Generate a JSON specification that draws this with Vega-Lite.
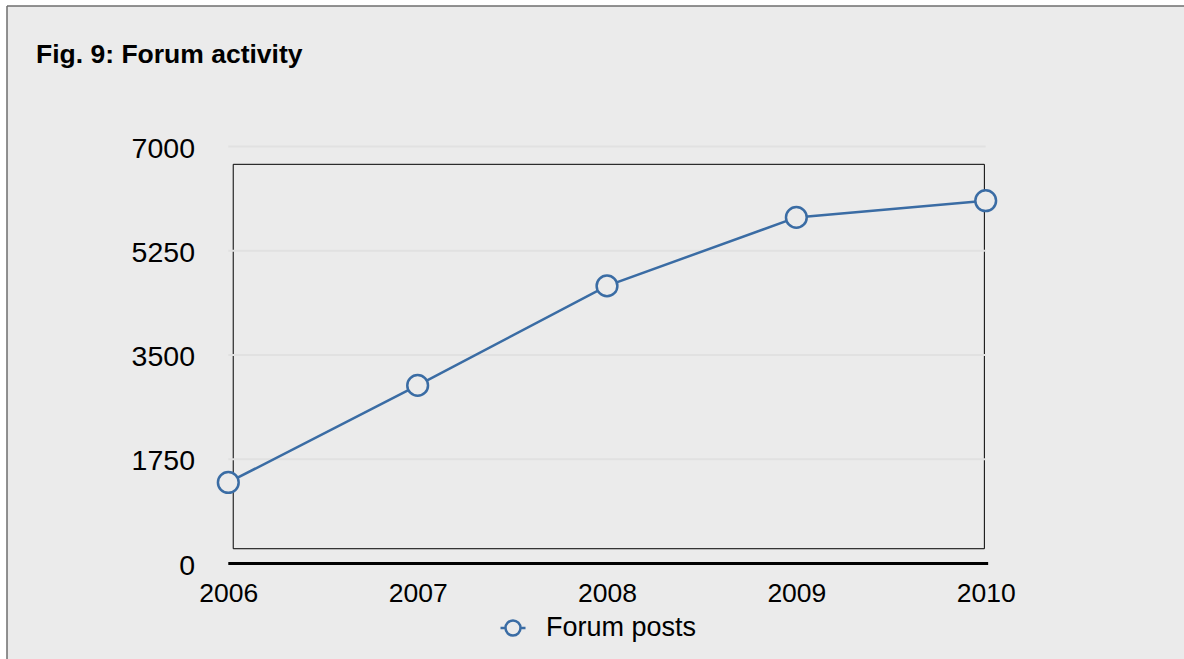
{
  "$schema": "https://vega.github.io/schema/vega-lite/v6.json",
  "width": 1177,
  "height": 653,
  "autosize": {"type": "none"},
  "padding": {"left": 7, "top": 6, "right": 0, "bottom": 0},
  "background": "#ffffff",
  "config": {
    "font": "Liberation Sans",
    "view": {
      "fill": "#ebebeb",
      "stroke": "#6f6f6f",
      "strokeWidth": 1.5,
      "strokeDash": [1177, 1830, 653, 0]
    },
    "axis": {
      "domain": false,
      "ticks": false,
      "tickSize": 0,
      "grid": false,
      "labelPadding": 0,
      "labelFont": "Liberation Sans",
      "labelColor": "#000000",
      "labelOverlap": false,
      "labelFlush": false
    }
  },
  "title": {
    "text": "Fig. 9: Forum activity",
    "anchor": "start",
    "frame": "group",
    "orient": "top",
    "baseline": "alphabetic",
    "offset": -83,
    "dx": 29,
    "font": "Liberation Sans",
    "fontSize": 26.5,
    "fontWeight": "bold",
    "color": "#000000"
  },
  "datasets": {
    "posts": [
      {"year": 2006, "posts": 1360, "series": "Forum posts"},
      {"year": 2007, "posts": 2990, "series": "Forum posts"},
      {"year": 2008, "posts": 4660, "series": "Forum posts"},
      {"year": 2009, "posts": 5810, "series": "Forum posts"},
      {"year": 2010, "posts": 6090, "series": "Forum posts"}
    ],
    "grid": [
      {"value": 1750},
      {"value": 3500},
      {"value": 5250},
      {"value": 7000}
    ]
  },
  "layer": [
    {
      "data": {"values": [{}]},
      "mark": {"type": "rect", "fill": null, "stroke": "#000000", "strokeWidth": 1},
      "encoding": {
        "x": {"datum": 2006.026, "type": "quantitative", "scale": {"domain": [2004.83127, 2011.04727], "nice": false, "zero": false}},
        "x2": {"datum": 2009.993},
        "y": {"datum": 248, "type": "quantitative", "scale": {"domain": [-1603.1, 9358.6], "nice": false, "zero": false}},
        "y2": {"datum": 6701}
      }
    },
    {
      "data": {"name": "grid"},
      "mark": {"type": "rule", "color": "#e1e1e1", "strokeWidth": 2},
      "encoding": {
        "x": {"datum": 2006, "type": "quantitative", "scale": {"domain": [2004.83127, 2011.04727], "nice": false, "zero": false}},
        "x2": {"datum": 2010},
        "y": {"field": "value", "type": "quantitative", "scale": {"domain": [-1603.1, 9358.6], "nice": false, "zero": false}}
      }
    },
    {
      "data": {"values": [{}]},
      "mark": {"type": "rule", "color": "#000000", "strokeWidth": 3},
      "encoding": {
        "x": {"datum": 2006, "type": "quantitative", "scale": {"domain": [2004.83127, 2011.04727], "nice": false, "zero": false}},
        "x2": {"datum": 2010.013},
        "y": {"datum": 0, "type": "quantitative", "scale": {"domain": [-1603.1, 9358.6], "nice": false, "zero": false}}
      }
    },
    {
      "data": {"name": "posts"},
      "mark": {"type": "line", "strokeWidth": 2.5},
      "encoding": {
        "x": {
          "field": "year",
          "type": "quantitative",
          "scale": {"domain": [2004.83127, 2011.04727], "nice": false, "zero": false},
          "axis": {
            "orient": "bottom",
            "values": [2006, 2007, 2008, 2009, 2010],
            "format": "d",
            "title": null,
            "offset": -79,
            "labelFontSize": 26.5
          }
        },
        "y": {
          "field": "posts",
          "type": "quantitative",
          "scale": {"domain": [-1603.1, 9358.6], "nice": false, "zero": false},
          "axis": {
            "orient": "left",
            "values": [0, 1750, 3500, 5250, 7000],
            "format": "d",
            "title": null,
            "offset": -187.5,
            "labelOffset": 1.5,
            "labelFontSize": 28.5
          }
        },
        "color": {
          "field": "series",
          "type": "nominal",
          "scale": {"range": ["#3a6ca4"]},
          "legend": {
            "orient": "none",
            "legendX": 492,
            "legendY": 608,
            "title": null,
            "padding": 0,
            "symbolType": "M-1,0L-0.6,0M0.6,0A0.6,0.6,0,1,1,-0.6,0A0.6,0.6,0,1,1,0.6,0M0.6,0L1,0",
            "symbolSize": 625,
            "symbolStrokeWidth": 2.5,
            "symbolStrokeColor": "#3a6ca4",
            "symbolFillColor": "#ebebeb",
            "labelOffset": 19,
            "labelFont": "Liberation Sans",
            "labelFontSize": 27,
            "labelColor": "#000000"
          }
        }
      }
    },
    {
      "data": {"name": "posts"},
      "mark": {
        "type": "point",
        "shape": "circle",
        "size": 430,
        "fill": "#ebebeb",
        "stroke": "#3a6ca4",
        "strokeWidth": 2.5,
        "opacity": 1,
        "fillOpacity": 1
      },
      "encoding": {
        "x": {"field": "year", "type": "quantitative", "scale": {"domain": [2004.83127, 2011.04727], "nice": false, "zero": false}},
        "y": {"field": "posts", "type": "quantitative", "scale": {"domain": [-1603.1, 9358.6], "nice": false, "zero": false}}
      }
    }
  ]
}
